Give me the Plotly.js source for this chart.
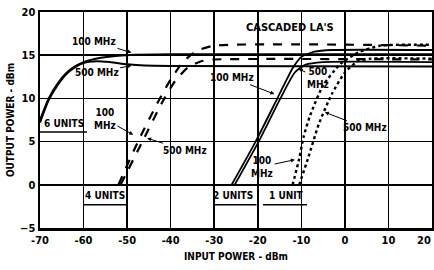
<!DOCTYPE html>
<html>
<head>
<meta charset="utf-8">
<script src="https://cdn.plot.ly/plotly-3.0.1.min.js"></script>
<style>html,body{margin:0;padding:0;background:#fff;}#chart{width:434px;height:270px;}</style>
</head>
<body>
<div id="chart"></div>
<script>
// Axis ticks
const xTickVals = [-70, -60, -50, -40, -30, -20, -10, 0, 10, 20];
const xTickText = ['-70', '-60', '-50', '-40', '-30', '-20', '-10', '0', '10', '20'];
const yTickVals = [-5, 0, 5, 10, 15, 20];

// 6 units
const u6_100_x = [-70, -68, -66, -64, -62, -60, -56, -52, -48, -40, 20];
const u6_100_y = [7.5, 10.0, 11.7, 12.9, 13.7, 14.2, 14.7, 14.95, 15.05, 15.1, 15.1];
const u6_500_x = [-70, -68, -66, -64, -62, -60, -57, -54, -50, -46, -40, 20];
const u6_500_y = [7.2, 9.8, 11.5, 12.8, 13.6, 14.1, 14.3, 14.2, 13.95, 13.8, 13.75, 13.7];

// 4 units
const u4_100_x = [-52, -47.5, -43, -40, -37, -34, -30, 20];
const u4_100_y = [0, 5, 9.5, 12.2, 14.3, 15.5, 16.1, 16.1];
const u4_500_x = [-51.5, -46.5, -42, -39, -36, -33, -30, 20];
const u4_500_y = [0, 5, 9.5, 12, 13.6, 14.3, 14.5, 14.5];

// 2 units
const u2_100_x = [-26, -20.5, -15.5, -12, -10, -7, -3, 20];
const u2_100_y = [0, 5, 10, 13.5, 14.8, 15.4, 15.6, 15.6];
const u2_500_x = [-25.3, -19.8, -14.8, -11.5, -9, -5, 20];
const u2_500_y = [0, 5, 10, 13, 13.9, 14.2, 14.2];

// 1 unit
const u1_100_x = [-12, -10.5, -9.5, -8, -5, -1, 3, 8, 20];
const u1_100_y = [0, 3, 5.5, 8, 11.5, 14, 15.3, 16.1, 16.2];
const u1_500_x = [-10.5, -8.5, -6, -3, 0, 3, 6, 20];
const u1_500_y = [0, 3, 7, 10.5, 13, 14.3, 14.6, 14.6];

const FONT = "'DejaVu Sans Condensed', 'Liberation Sans Narrow', 'DejaVu Sans', sans-serif";
const TICKFONT = {family: FONT, size: 11, color: '#000', weight: 'bold'};

function tr(x, y, dash, w) {
  return {x: x, y: y, type: 'scatter', mode: 'lines', hoverinfo: 'skip',
    line: {color: '#000', width: w, dash: dash, shape: 'spline', smoothing: 0.6}};
}

const data = [
  tr(u6_100_x, u6_100_y, 'solid', 2),
  tr(u6_500_x, u6_500_y, 'solid', 2),
  tr(u4_100_x, u4_100_y, 'dash', 2.2),
  tr(u4_500_x, u4_500_y, 'dash', 2.2),
  tr(u2_100_x, u2_100_y, 'solid', 1.8),
  tr(u2_500_x, u2_500_y, 'solid', 1.8),
  tr(u1_100_x, u1_100_y, 'dot', 2.4),
  tr(u1_500_x, u1_500_y, 'dot', 2.4)
];

function lab(text, x, y, opts) {
  return Object.assign({text: text, x: x, y: y, xref: 'x', yref: 'y', showarrow: false,
    font: {family: FONT, size: 10, color: '#000', weight: 'bold'}}, opts || {});
}
function arr(text, tx, ty, hx, hy) {
  return {text: text, x: hx, y: hy, ax: tx, ay: ty, xref: 'x', yref: 'y', axref: 'x', ayref: 'y',
    showarrow: true, arrowhead: 2, arrowsize: 0.8, arrowwidth: 1, arrowcolor: '#000', standoff: 0,
    font: {family: FONT, size: 10, color: '#000', weight: 'bold'}};
}

const lastTick = xTickVals.length - 1;
const annotations = [
  lab("CASCADED LA'S", -12.6, 18.2, {font: {family: FONT, size: 11, color: '#000', weight: 'bold'}}),
  arr('100 MHz', -57.5, 16.6, -49, 15.3),
  arr('500 MHz', -57, 13.0, -49, 13.8),
  lab('6 UNITS', -64.6, 7.1),
  arr('100<br>MHz', -55.1, 7.6, -48.6, 5.8),
  arr('500 MHz', -36.7, 4.0, -45.4, 5.4),
  lab('4 UNITS', -55.1, -1.2),
  arr('100 MHz', -25.9, 12.4, -16.2, 10.5),
  arr('500<br>MHz', -6.2, 12.4, -10.6, 13.4),
  arr('500 MHz', 4.6, 6.6, -4.6, 8.4),
  arr('100<br>MHz', -19.0, 2.1, -11.5, 2.9),
  lab('2 UNITS', -25.7, -1.2),
  lab('1 UNIT', -13.5, -1.2),
  // last x tick label, kept inside the picture (right-aligned at its gridline)
  {text: xTickText[lastTick], x: xTickVals[lastTick], xref: 'x', y: 0, yref: 'paper',
   xanchor: 'right', yanchor: 'top', xshift: 1, yshift: -4, showarrow: false, font: TICKFONT}
];

function uline(x0, x1, y) {
  return {type: 'line', xref: 'x', yref: 'y', x0: x0, x1: x1, y0: y, y1: y, line: {color: '#000', width: 1.5}};
}
const shapes = [
  uline(-70, -59.2, 6.1),
  uline(-60.1, -49.8, -2.3),
  uline(-30, -20.3, -2.3),
  uline(-18.8, -8.7, -2.3)
];

const layout = {
  width: 434, height: 270,
  margin: {l: 40, r: 2, t: 12, b: 42},
  paper_bgcolor: '#fff', plot_bgcolor: '#fff',
  showlegend: false,
  font: {family: FONT, size: 11, color: '#000'},
  xaxis: {
    range: [-70, 20], tickvals: xTickVals.slice(0, lastTick), ticktext: xTickText.slice(0, lastTick),
    ticks: '', showgrid: true, gridcolor: '#000', gridwidth: 1.5,
    zeroline: false, showline: true, mirror: true, linecolor: '#000', linewidth: 2.5,
    tickfont: TICKFONT,
    title: {text: 'INPUT POWER - dBm', font: {family: FONT, size: 10, color: '#000', weight: 'bold'}, standoff: 8}
  },
  yaxis: {
    range: [-5, 20], tickvals: yTickVals, ticks: '', showgrid: true, gridcolor: '#000', gridwidth: 1.5,
    zeroline: false, showline: true, mirror: true, linecolor: '#000', linewidth: 2.5,
    tickfont: TICKFONT,
    title: {text: 'OUTPUT POWER - dBm', font: {family: FONT, size: 10, color: '#000', weight: 'bold'}, standoff: 4}
  },
  annotations: annotations,
  shapes: shapes
};

Plotly.newPlot('chart', data, layout, {displayModeBar: false, staticPlot: true});
</script>
</body>
</html>
